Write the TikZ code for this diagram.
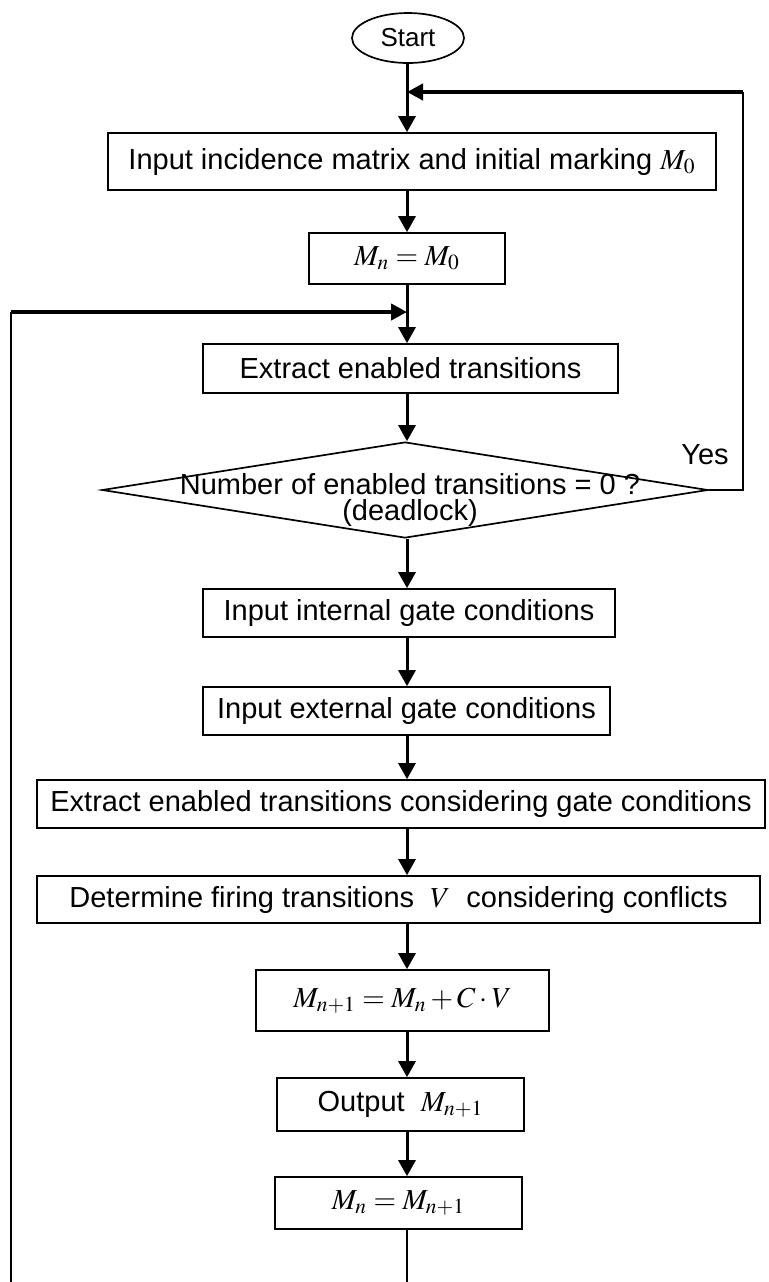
\documentclass[tikz,border=0pt]{standalone}
\usepackage{mathptmx}
\usepackage[no-math]{fontspec}
\setmainfont{Liberation Sans}
\usetikzlibrary{shapes}
\usetikzlibrary{arrows.meta}

\begin{document}
\begin{tikzpicture}[x=0.5pt, y=-0.5pt,
        box/.style={draw, line width=0.85pt, inner sep=0pt, font=\fontsize{14.5}{17}\selectfont},
        flow/.style={line width=1.5pt, -{Triangle[length=8pt,width=8.5pt]}},
        back/.style={line width=2pt, -{Triangle[length=8pt,width=8pt]}},
        thinline/.style={line width=1pt},
        txt/.style={font=\fontsize{14.5}{13}\selectfont}]
        \useasboundingbox (0,0) rectangle (769,1282);

        \coordinate (col) at (407,0);

        \node[draw, ellipse, line width=0.85pt, minimum width=56pt, minimum height=25pt, inner sep=0pt,
              font=\fontsize{13}{15}\selectfont] (start) at (408,38) {Start};
        \node[box, minimum width=304pt, minimum height=28.5pt] (incid) at (412,161.5) {Input incidence matrix and initial marking $M_0$};
        \node[box, minimum width=98pt, minimum height=25.5pt] (mzero) at (407,258.5) {$M_n = M_0$};
        \node[box, minimum width=207.5pt, minimum height=24.5pt] (extr) at (410.5,368.5) {Extract enabled transitions};
        \node[draw, diamond, line width=0.85pt, minimum width=303pt, minimum height=48pt, inner sep=0pt] (dia) at (405,490) {};
        \node[txt, align=center] (diatext) at (410,500) {Number of enabled transitions = 0 ?\\(deadlock)};
        \node[txt] (yes) at (705,455) {Yes};
        \node[box, minimum width=206pt, minimum height=24pt] (intgate) at (409,613) {Input internal gate conditions};
        \node[box, minimum width=203.5pt, minimum height=24pt] (extgate) at (406.5,711) {Input external gate conditions};
        \node[box, minimum width=364pt, minimum height=24pt] (gateextr) at (401,804) {Extract enabled transitions considering gate conditions};
        \node[box, minimum width=361.5pt, minimum height=23.5pt] (fire) at (398.5,899.5) {Determine firing transitions \ $V$ \ considering conflicts};
        \node[box, minimum width=146.5pt, minimum height=30.5pt] (update) at (402.5,1000.5) {$M_{n+1} = M_n + C\cdot V$};
        \node[box, minimum width=123.5pt, minimum height=26.5pt] (output) at (400.5,1104.5) {Output \ $M_{n+1}$};
        \node[box, minimum width=123.5pt, minimum height=26pt] (mnext) at (398.5,1203) {$M_n = M_{n+1}$};

        \coordinate (jtop) at (407,92);
        \coordinate (yesturn) at (743,490);
        \coordinate (yestop) at (743,92);
        \coordinate (jmid) at (407,312);
        \coordinate (lefttop) at (11,312);
        \coordinate (leftbot) at (11,1282);
        \coordinate (botmid) at (407,1282);

        \draw[flow] (start.south -| col) -- (incid.north -| col);
        \draw[flow] (incid.south -| col) -- (mzero.north -| col);
        \draw[flow] (mzero.south -| col) -- (extr.north -| col);
        \draw[flow] (extr.south -| col) -- (dia.north -| col);
        \draw[flow] (dia.south -| col) -- (intgate.north -| col);
        \draw[flow] (intgate.south -| col) -- (extgate.north -| col);
        \draw[flow] (extgate.south -| col) -- (gateextr.north -| col);
        \draw[flow] (gateextr.south -| col) -- (fire.north -| col);
        \draw[flow] (fire.south -| col) -- (update.north -| col);
        \draw[flow] (update.south -| col) -- (output.north -| col);
        \draw[flow] (output.south -| col) -- (mnext.north -| col);
        \draw[thinline] (mnext.south -| col) -- (botmid);

        \draw[thinline] (dia.east) -- (yesturn) -- (yestop);
        \draw[back] (yestop) -- (jtop);
        \draw[thinline] (leftbot) -- (lefttop);
        \draw[back] (lefttop) -- (jmid);
\end{tikzpicture}
\end{document}
